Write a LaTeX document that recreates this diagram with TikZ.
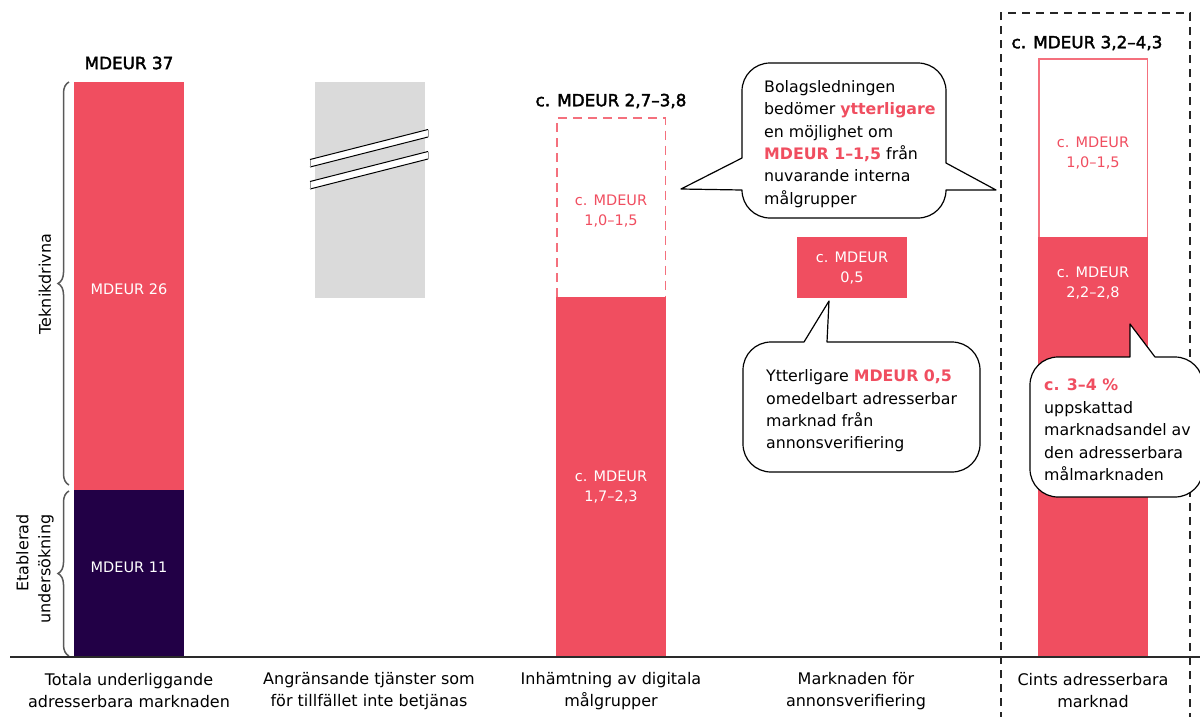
\documentclass[tikz,border=0pt]{standalone}
\usepackage{fontspec}
\setmainfont{DejaVu Sans}
\newfontfamily\medfont[FakeBold=2.2]{DejaVu Sans}
\usetikzlibrary{decorations.pathreplacing}

\definecolor{cred}{HTML}{F04E60}
\definecolor{cnavy}{HTML}{220046}
\definecolor{cgrey}{HTML}{DADADA}
\definecolor{cpink}{HTML}{F4707D}
\definecolor{cline}{HTML}{2A2A2A}

\tikzset{
  body/.style={font=\fontsize{15.8}{22.4}\selectfont, inner sep=0pt, align=left, anchor=west, text=black},
  barlabel/.style={font=\fontsize{14.5}{19.5}\selectfont, align=center, inner sep=0pt},
  title/.style={font=\medfont\fontsize{16.8}{20}\selectfont, inner sep=0pt, text=black},
  axislabel/.style={font=\fontsize{16}{22}\selectfont, align=center, inner sep=0pt, text=black},
  sidelabel/.style={font=\fontsize{16}{22}\selectfont, inner sep=0pt, rotate=90, text=black},
  bubble/.style={draw=black, fill=white, line width=1.2pt, line join=round},
  bracket/.style={draw=black!65, line width=1.5pt, decorate, decoration={brace, amplitude=11pt}},
  stripe/.style={draw=black, line width=1pt}
}
\newcommand{\hlred}[1]{{\color{cred}\bfseries #1}}

\begin{document}
\begin{tikzpicture}[x=1pt, y=-1pt]
\useasboundingbox (0,0) rectangle (1200,716);

% ---- column 1: total market ----
\fill[cred]  (74,82)  rectangle (184,490);
\fill[cnavy] (74,490) rectangle (184,657);
\node[title] (t1) at (129,63) {MDEUR 37};
\node[barlabel, text=white] (v26) at (129,289) {MDEUR 26};
\node[barlabel, text=white] (v11) at (129,567) {MDEUR 11};

\draw[bracket] (69,485) -- (69,82);
\draw[bracket] (69,656) -- (69,491);
\node[sidelabel] (tek) at (45,284) {Teknikdrivna};
\node[sidelabel, align=right] (etab) at (35,569) {Etablerad\\undersökning};

% ---- column 2: adjacent services (broken bar) ----
\fill[cgrey] (315,82) rectangle (425,298);
\fill[white] (310,159.5) -- (428,129.5) -- (428,137) -- (310,167) -- cycle;
\draw[stripe] (310,159.5) -- (428,129.5);
\draw[stripe] (310,167) -- (428,137);
\draw[black!40, line width=0.6pt] (310,159.5) -- (310,167) (428,129.5) -- (428,137);
\fill[white] (310,181.5) -- (428,151.5) -- (428,159) -- (310,189) -- cycle;
\draw[stripe] (310,181.5) -- (428,151.5);
\draw[stripe] (310,189) -- (428,159);
\draw[black!40, line width=0.6pt] (310,181.5) -- (310,189) (428,151.5) -- (428,159);

% ---- column 3: digital audiences ----
\fill[cred] (556,297) rectangle (666,657);
\draw[cpink, line width=1.5pt, dash pattern=on 9pt off 6pt] (556.75,297) -- (556.75,118) -- (665.25,118) -- (665.25,297);
\node[title] (t3) at (611,101) {c. MDEUR 2,7–3,8};
\node[barlabel, text=cred] (v3a) at (611,211) {c. MDEUR\\1,0–1,5};
\node[barlabel, text=white] (v3b) at (611,487) {c. MDEUR\\1,7–2,3};

% ---- column 4: ad verification ----
\fill[cred] (797,237) rectangle (907,298);
\node[barlabel, text=white] (v4) at (852,268) {c. MDEUR\\0,5};

% ---- column 5: Cint's addressable market ----
\draw[cpink, line width=1.5pt] (1038.75,237) -- (1038.75,58.75) -- (1147.25,58.75) -- (1147.25,237);
\fill[cred] (1038,237) rectangle (1148,657);
\node[title] (t5) at (1087,43) {c. MDEUR 3,2–4,3};
\node[barlabel, text=cred] (v5a) at (1093,153) {c. MDEUR\\1,0–1,5};
\node[barlabel, text=white] (v5b) at (1093,283) {c. MDEUR\\2,2–2,8};

\draw[black!85, line width=1.3pt, dash pattern=on 8pt off 6pt]
  (1001,720) -- (1001,13) -- (1190,13) -- (1190,720);

% ---- axis ----
\draw[cline, line width=1.3pt] (10,657) -- (1200,657);
\node[axislabel] (a1) at (129,691) {Totala underliggande\\adresserbara marknaden};
\node[axislabel] (a2) at (369,691) {Angränsande tjänster som\\för tillfället inte betjänas};
\node[axislabel] (a3) at (611,691) {Inhämtning av digitala\\målgrupper};
\node[axislabel] (a4) at (856,691) {Marknaden för\\annonsverifiering};
\node[axislabel] (a5) at (1093,691) {Cints adresserbara\\marknad};

% ---- callouts ----
\draw[bubble] (742,91) .. controls (742,75.5) and (754.5,63) .. (770,63)
  -- (918,63) .. controls (933.5,63) and (946,75.5) .. (946,91)
  -- (946,163) -- (996,190) -- (946,190)
  .. controls (946,205.5) and (933.5,218) .. (918,218)
  -- (770,218) .. controls (754.5,218) and (742,205.5) .. (742,190)
  -- (681,189) -- (742,158) -- cycle;
\node[body] (b1) at (764,144) {Bolagsledningen\\bedömer \hlred{ytterligare}\\en möjlighet om\\\hlred{MDEUR 1–1,5} från\\nuvarande interna\\målgrupper};

\draw[bubble] (743,370) .. controls (743,354.5) and (755.5,342) .. (771,342)
  -- (804,342) -- (829,301) -- (827,342)
  -- (952,342) .. controls (967.5,342) and (980,354.5) .. (980,370)
  -- (980,444) .. controls (980,459.5) and (967.5,472) .. (952,472)
  -- (771,472) .. controls (755.5,472) and (743,459.5) .. (743,444) -- cycle;
\node[body] (b2) at (766,411) {Ytterligare \hlred{MDEUR 0,5}\\omedelbart adresserbar\\marknad från\\annonsverifiering};

\draw[bubble] (1030,385) .. controls (1030,369.5) and (1042.5,357) .. (1058,357)
  -- (1130,357) -- (1130,324) -- (1155,357)
  -- (1175,357) .. controls (1190.5,357) and (1203,369.5) .. (1203,385)
  -- (1203,469) .. controls (1203,484.5) and (1190.5,497) .. (1175,497)
  -- (1058,497) .. controls (1042.5,497) and (1030,484.5) .. (1030,469) -- cycle;
\node[body] (b3) at (1044,430) {\hlred{c. 3–4 \%}\\uppskattad\\marknadsandel av\\den adresserbara\\målmarknaden};

\end{tikzpicture}
\end{document}
